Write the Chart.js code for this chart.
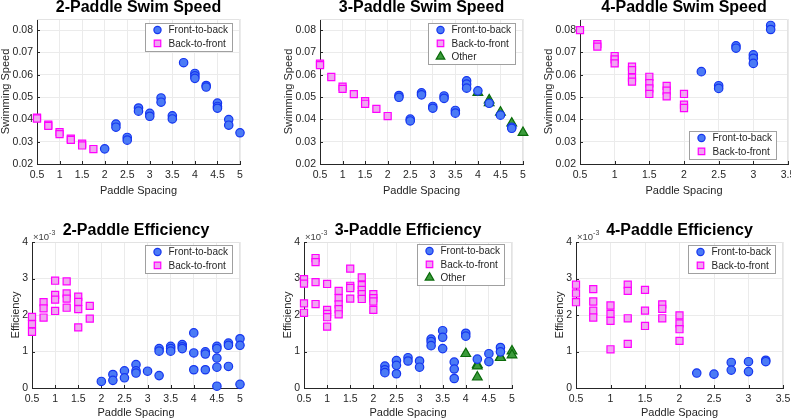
<!DOCTYPE html>
<html>
<head>
<meta charset="utf-8">
<script src="https://cdn.jsdelivr.net/npm/chart.js@4.4.0/dist/chart.umd.min.js"></script>
<style>
  html, body { margin: 0; padding: 0; background: #fff; }
  body { position: relative; width: 791px; height: 419px; overflow: hidden; }
  canvas { position: absolute; }
</style>
</head>
<body>
<canvas id="c1"></canvas>
<canvas id="c2"></canvas>
<canvas id="c3"></canvas>
<canvas id="c4"></canvas>
<canvas id="c5"></canvas>
<canvas id="c6"></canvas>
<script>
// tick labels
const spacingTicksLong = [0.5, 1, 1.5, 2, 2.5, 3, 3.5, 4, 4.5, 5];
const spacingTicksShort = [0.5, 1, 1.5, 2, 2.5, 3, 3.5];
const speedTicks = [0.02, 0.03, 0.04, 0.05, 0.06, 0.07, 0.08];
const effTicks = [0, 1, 2, 3, 4]; // efficiency in units of 1e-3

// 2-paddle swim speed
const sp2BackX = [0.5, 0.5, 0.75, 0.75, 1, 1, 1.25, 1.25, 1.5, 1.5, 1.75];
const sp2BackY = [0.0408, 0.0404, 0.0376, 0.0371, 0.0343, 0.0334, 0.0314, 0.0308, 0.0291, 0.0283, 0.0267];
const sp2FrontX = [2, 2.25, 2.25, 2.5, 2.5, 2.75, 2.75, 3, 3, 3.25, 3.25, 3.5, 3.5, 3.75, 4, 4, 4, 4.25, 4.25, 4.5, 4.5, 4.5, 4.75, 4.75, 5];
const sp2FrontY = [0.0268, 0.0379, 0.0365, 0.0319, 0.0307, 0.0451, 0.0437, 0.0427, 0.0414, 0.0496, 0.0477, 0.0416, 0.0402, 0.0654, 0.0606, 0.0595, 0.0584, 0.0552, 0.0545, 0.0473, 0.0458, 0.0450, 0.0399, 0.0374, 0.0340];

// 3-paddle swim speed
const sp3BackX = [0.5, 0.5, 0.75, 1, 1, 1.25, 1.5, 1.5, 1.75, 2];
const sp3BackY = [0.0650, 0.0643, 0.0590, 0.0547, 0.0537, 0.0513, 0.0482, 0.0470, 0.0447, 0.0415];
const sp3FrontX = [2.25, 2.25, 2.5, 2.5, 2.75, 2.75, 3, 3, 3.25, 3.25, 3.5, 3.5, 3.75, 3.75, 3.75, 4, 4.25, 4.5, 4.75, 4.75];
const sp3FrontY = [0.0507, 0.0499, 0.0401, 0.0393, 0.0519, 0.0510, 0.0458, 0.0450, 0.0505, 0.0494, 0.0440, 0.0428, 0.0573, 0.0558, 0.0540, 0.0528, 0.0472, 0.0419, 0.0365, 0.0360];
const sp3OtherX = [4, 4.25, 4.25, 4.5, 4.75, 5];
const sp3OtherY = [0.0520, 0.0487, 0.0474, 0.0432, 0.0383, 0.0341];

// 4-paddle swim speed
const sp4BackX = [0.5, 0.75, 0.75, 1, 1, 1, 1.25, 1.25, 1.25, 1.25, 1.5, 1.5, 1.5, 1.5, 1.75, 1.75, 1.75, 2, 2, 2];
const sp4BackY = [0.0800, 0.0737, 0.0726, 0.0684, 0.0669, 0.0651, 0.0636, 0.0621, 0.0587, 0.0569, 0.0591, 0.0562, 0.0539, 0.0514, 0.0550, 0.0529, 0.0503, 0.0514, 0.0466, 0.0451];
const sp4FrontX = [2.25, 2.5, 2.5, 2.75, 2.75, 3, 3, 3, 3.25, 3.25];
const sp4FrontY = [0.0614, 0.0551, 0.0539, 0.0730, 0.0719, 0.0689, 0.0674, 0.0651, 0.0821, 0.0803];

// 2-paddle efficiency (x 1e-3)
const ef2BackX = [0.5, 0.5, 0.5, 0.75, 0.75, 0.75, 1, 1, 1, 1, 1.25, 1.25, 1.25, 1.25, 1.5, 1.5, 1.5, 1.5, 1.75, 1.75];
const ef2BackY = [1.95, 1.75, 1.54, 2.35, 2.18, 1.93, 2.94, 2.55, 2.42, 2.11, 2.92, 2.59, 2.45, 2.20, 2.50, 2.36, 2.16, 1.66, 2.25, 1.90];
const ef2FrontX = [2, 2.25, 2.25, 2.5, 2.5, 2.75, 2.75, 2.75, 3, 3.25, 3.25, 3.25, 3.5, 3.5, 3.5, 3.75, 3.75, 3.75, 4, 4, 4, 4.25, 4.25, 4.25, 4.5, 4.5, 4.5, 4.5, 4.5, 4.75, 4.75, 4.75, 5, 5, 5];
const ef2FrontY = [0.18, 0.37, 0.21, 0.47, 0.28, 0.64, 0.47, 0.41, 0.46, 1.08, 1.01, 0.34, 1.14, 1.08, 1.01, 1.19, 1.13, 1.08, 1.51, 0.96, 0.50, 0.99, 0.93, 0.50, 1.14, 1.08, 0.82, 0.57, 0.05, 1.23, 1.17, 0.59, 1.35, 1.17, 0.10];

// 3-paddle efficiency (x 1e-3)
const ef3BackX = [0.5, 0.5, 0.5, 0.5, 0.75, 0.75, 0.75, 0.75, 1, 1, 1, 1, 1, 1.25, 1.25, 1.25, 1.25, 1.25, 1.5, 1.5, 1.5, 1.5, 1.75, 1.75, 1.75, 1.75, 1.75, 2, 2, 2, 2];
const ef3BackY = [2.98, 2.86, 2.32, 2.06, 3.56, 3.45, 2.90, 2.30, 2.85, 2.14, 2.03, 1.94, 1.68, 2.66, 2.46, 2.29, 2.16, 2.02, 3.27, 2.80, 2.74, 2.45, 3.03, 2.82, 2.69, 2.57, 2.44, 2.57, 2.46, 2.37, 2.14];
const ef3FrontX = [2.25, 2.25, 2.25, 2.5, 2.5, 2.5, 2.75, 2.75, 3, 3, 3.25, 3.25, 3.25, 3.5, 3.5, 3.5, 3.75, 3.75, 3.75, 4, 4, 4.25, 4.5, 4.5, 4.75, 4.75];
const ef3FrontY = [0.60, 0.50, 0.42, 0.75, 0.62, 0.39, 0.83, 0.74, 0.74, 0.57, 1.34, 1.27, 1.16, 1.57, 1.39, 1.08, 0.71, 0.52, 0.26, 1.50, 1.42, 0.79, 0.94, 0.72, 1.11, 0.99];
const ef3OtherX = [4, 4.25, 4.25, 4.25, 4.75, 4.75, 5, 5];
const ef3OtherY = [0.94, 0.64, 0.60, 0.30, 0.85, 0.83, 1.01, 0.90];

// 4-paddle efficiency (x 1e-3)
const ef4BackX = [0.5, 0.5, 0.5, 0.75, 0.75, 0.75, 0.75, 1, 1, 1, 1, 1.25, 1.25, 1.25, 1.25, 1.5, 1.5, 1.5, 1.75, 1.75, 1.75, 2, 2, 2, 2];
const ef4BackY = [2.83, 2.59, 2.35, 2.71, 2.37, 2.12, 1.93, 2.26, 2.03, 1.84, 1.06, 2.83, 2.66, 1.91, 1.21, 2.69, 2.12, 1.70, 2.29, 2.17, 1.91, 1.99, 1.77, 1.61, 1.29];
const ef4FrontX = [2.25, 2.5, 2.75, 2.75, 3, 3, 3.25, 3.25];
const ef4FrontY = [0.41, 0.38, 0.70, 0.49, 0.72, 0.45, 0.76, 0.72];

const FONT = '"Liberation Sans", Arial, Helvetica, sans-serif';
Chart.defaults.font.family = FONT;
Chart.defaults.color = '#262626';

const marks = {
  'Front-to-back': { style: 'circle', r: 4.2, lr: 3.6, bg: '#4b7bf5', border: '#1535f0' },
  'Back-to-front': { style: 'rect', r: 5, lr: 4.6, bg: '#f0a6f0', border: '#ff00ff' },
  'Other': { style: 'triangle', r: 5.6, lr: 5, bg: '#3b9b3b', border: '#0b6b0b' }
};

// light top/right box edges and short inward ticks, like MATLAB
const framePlugin = {
  id: 'frame',
  beforeDatasetsDraw(chart) {
    const { ctx, chartArea: a, scales } = chart;
    ctx.save();
    ctx.strokeStyle = '#e3e3e3';
    ctx.lineWidth = 1;
    const t = Math.round(a.top) + 0.5, r = Math.round(a.right) - 0.5;
    ctx.beginPath();
    ctx.moveTo(a.left, t); ctx.lineTo(r, t); ctx.lineTo(r, a.bottom);
    ctx.stroke();
    ctx.strokeStyle = '#262626';
    ctx.beginPath();
    scales.x.ticks.forEach(tk => {
      const px = Math.round(scales.x.getPixelForValue(tk.value)) + 0.5;
      ctx.moveTo(px, a.bottom); ctx.lineTo(px, a.bottom - 3);
    });
    scales.y.ticks.forEach(tk => {
      const py = Math.round(scales.y.getPixelForValue(tk.value)) + 0.5;
      ctx.moveTo(a.left, py); ctx.lineTo(a.left + 3, py);
    });
    ctx.stroke();
    ctx.restore();
  }
};

// legend box drawn inside the axes
const boxLegendPlugin = {
  id: 'boxLegend',
  afterDraw(chart, args, opts) {
    const { ctx, chartArea: a } = chart;
    const sets = chart.data.datasets;
    ctx.save();
    ctx.font = '10px ' + FONT;
    let tw = 0;
    sets.forEach(d => { tw = Math.max(tw, ctx.measureText(d.label).width); });
    const rowH = 13.3;
    const w = Math.round(23.5 + tw + 4);
    const h = Math.round(rowH * sets.length + 1);
    const x = Math.round(a.right - opts.dx - w);
    const y = opts.corner === 'se' ? Math.round(a.bottom - opts.dy - h) : Math.round(a.top + opts.dy);
    ctx.fillStyle = '#fff';
    ctx.fillRect(x, y, w, h);
    ctx.strokeStyle = '#a0a0a0';
    ctx.lineWidth = 1;
    ctx.strokeRect(x + 0.5, y + 0.5, w, h);
    sets.forEach((d, i) => {
      const m = marks[d.label];
      const cy = y + 7 + i * rowH;
      ctx.fillStyle = m.bg;
      ctx.strokeStyle = m.border;
      ctx.lineWidth = 1.2;
      Chart.helpers.drawPoint(ctx, { pointStyle: m.style, radius: m.lr, rotation: 0, borderWidth: 1.2 }, x + 12.5, cy);
      ctx.fillStyle = '#262626';
      ctx.textBaseline = 'middle';
      ctx.textAlign = 'left';
      ctx.fillText(d.label, x + 23.5, cy + 0.5);
    });
    ctx.restore();
  }
};

// "x10^-3" exponent label above the y axis
const expLabelPlugin = {
  id: 'expLabel',
  afterDraw(chart, args, opts) {
    if (!opts.show) return;
    const { ctx, chartArea: a } = chart;
    ctx.save();
    ctx.fillStyle = '#404040';
    ctx.textBaseline = 'alphabetic';
    ctx.textAlign = 'left';
    ctx.font = '9.5px ' + FONT;
    ctx.fillText('\u00d710', a.left + 1, a.top - 2);
    const w = ctx.measureText('\u00d710').width;
    ctx.font = '7px ' + FONT;
    ctx.fillText('-3', a.left + 1 + w, a.top - 7);
    ctx.restore();
  }
};

function makeSet(name, xs, ys) {
  const m = marks[name];
  return {
    label: name,
    data: xs.map((x, i) => ({ x: x, y: ys[i] })),
    pointStyle: m.style,
    pointRadius: m.r,
    pointHoverRadius: m.r,
    backgroundColor: m.bg,
    borderColor: m.border,
    borderWidth: 1.2,
    clip: false
  };
}

function makeChart(id, cfg) {
  const cv = document.getElementById(id);
  cv.width = cfg.w;
  cv.height = cfg.h;
  cv.style.left = cfg.left + 'px';
  cv.style.top = cfg.top + 'px';
  new Chart(cv, {
    type: 'scatter',
    data: { datasets: cfg.sets },
    options: {
      responsive: false,
      animation: false,
      events: [],
      layout: { padding: { left: 0, right: 15, top: 0, bottom: 0 } },
      plugins: {
        legend: { display: false },
        tooltip: { enabled: false },
        title: {
          display: true, text: cfg.title, fullSize: false, color: '#000',
          font: { size: 16, weight: 'bold', lineHeight: '20px' },
          padding: { top: 0, bottom: 1 }
        },
        boxLegend: { corner: cfg.corner || 'ne', dx: cfg.dx || 8, dy: cfg.dy || 4 },
        expLabel: { show: !!cfg.exp }
      },
      scales: {
        x: {
          type: 'linear', min: cfg.xTicks[0], max: cfg.xTicks[cfg.xTicks.length - 1],
          afterBuildTicks: s => { s.ticks = cfg.xTicks.map(v => ({ value: v })); },
          afterFit: s => { s.height = 36; },
          ticks: { font: { size: 10.5 }, padding: 5, maxRotation: 0, autoSkip: false, callback: v => String(v) },
          grid: { color: '#ebebeb', drawTicks: false },
          border: { color: '#262626' },
          title: { display: true, text: 'Paddle Spacing', font: { size: 11, lineHeight: '13px' }, padding: { top: 0, bottom: cfg.xTitlePad } }
        },
        y: {
          type: 'linear', min: cfg.yMin, max: cfg.yMax,
          afterBuildTicks: s => { s.ticks = cfg.yTicks.map(v => ({ value: v })); },
          afterFit: s => { s.width = cfg.yw; },
          ticks: { font: { size: 10.5 }, padding: 4, autoSkip: false, callback: cfg.yFmt },
          grid: { color: '#ebebeb', drawTicks: false },
          border: { color: '#262626' },
          title: { display: true, text: cfg.yTitle, font: { size: 11, lineHeight: '13px' }, padding: { top: cfg.yTitlePad, bottom: 0 } }
        }
      }
    },
    plugins: [framePlugin, boxLegendPlugin, expLabelPlugin]
  });
}

const speedFmt = v => v.toFixed(2);
const effFmt = v => String(v);

const speedBase = { top: -2, h: 202, yw: 40, yMin: 0.02, yMax: 0.085, yTicks: speedTicks, yFmt: speedFmt, yTitle: 'Swimming Speed', yTitlePad: 2, xTitlePad: 3 };
const effBase = { top: 221, h: 203, yw: 24, yMin: 0, yMax: 4, yTicks: effTicks, yFmt: effFmt, yTitle: 'Efficiency', yTitlePad: 1, xTitlePad: 5, exp: true };

makeChart('c1', Object.assign({}, speedBase, {
  left: -3, w: 258, title: '2-Paddle Swim Speed', xTicks: spacingTicksLong,
  sets: [makeSet('Front-to-back', sp2FrontX, sp2FrontY), makeSet('Back-to-front', sp2BackX, sp2BackY)]
}));
makeChart('c2', Object.assign({}, speedBase, {
  left: 280, w: 258, title: '3-Paddle Swim Speed', xTicks: spacingTicksLong,
  sets: [makeSet('Front-to-back', sp3FrontX, sp3FrontY), makeSet('Back-to-front', sp3BackX, sp3BackY), makeSet('Other', sp3OtherX, sp3OtherY)]
}));
makeChart('c3', Object.assign({}, speedBase, {
  left: 540, w: 263, title: '4-Paddle Swim Speed', xTicks: spacingTicksShort, corner: 'se', dx: 12, dy: 5,
  sets: [makeSet('Front-to-back', sp4FrontX, sp4FrontY), makeSet('Back-to-front', sp4BackX, sp4BackY)]
}));
makeChart('c4', Object.assign({}, effBase, {
  left: 8, w: 247, title: '2-Paddle Efficiency', xTicks: spacingTicksLong, dy: 3,
  sets: [makeSet('Front-to-back', ef2FrontX, ef2FrontY), makeSet('Back-to-front', ef2BackX, ef2BackY)]
}));
makeChart('c5', Object.assign({}, effBase, {
  left: 280, w: 247, title: '3-Paddle Efficiency', xTicks: spacingTicksLong, dy: 2,
  sets: [makeSet('Front-to-back', ef3FrontX, ef3FrontY), makeSet('Back-to-front', ef3BackX, ef3BackY), makeSet('Other', ef3OtherX, ef3OtherY)]
}));
makeChart('c6', Object.assign({}, effBase, {
  left: 552, w: 246, title: '4-Paddle Efficiency', xTicks: spacingTicksShort, dy: 3,
  sets: [makeSet('Front-to-back', ef4FrontX, ef4FrontY), makeSet('Back-to-front', ef4BackX, ef4BackY)]
}));
</script>
</body>
</html>
